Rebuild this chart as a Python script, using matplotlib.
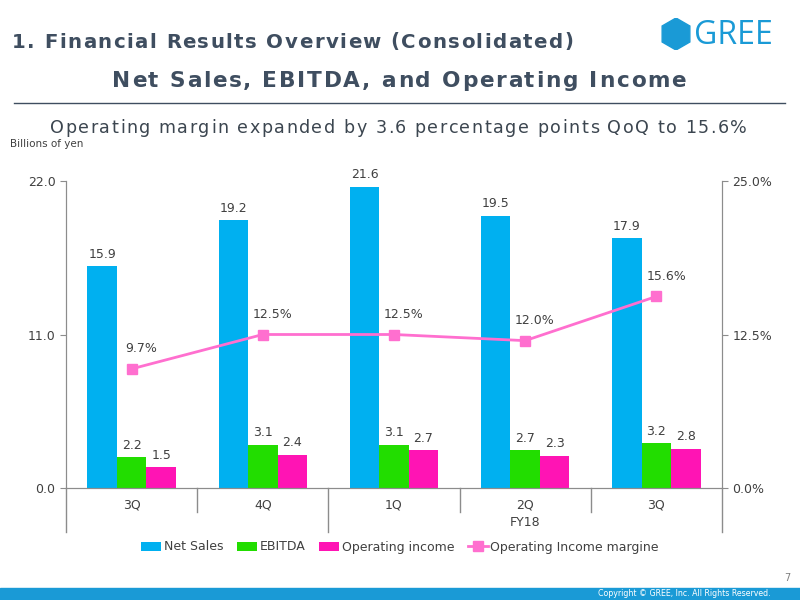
import numpy as np
import matplotlib
matplotlib.use("Agg")
import matplotlib.pyplot as plt
from matplotlib.patches import RegularPolygon, Rectangle
from matplotlib.lines import Line2D
import matplotlib.transforms as mtransforms

# --------- data ---------
quarters = ["3Q", "4Q", "1Q", "2Q", "3Q"]
net_sales = [15.9, 19.2, 21.6, 19.5, 17.9]
ebitda = [2.2, 3.1, 3.1, 2.7, 3.2]
op_income = [1.5, 2.4, 2.7, 2.3, 2.8]
op_margin = [9.7, 12.5, 12.5, 12.0, 15.6]

C_SALES = "#00B0F0"
C_EBITDA = "#22DD00"
C_OPINC = "#FF14B4"
C_MARGIN = "#FF6FCF"
C_TITLE = "#3F4E60"
C_TEXT = "#404040"
C_AXIS = "#8C8C8C"
C_BRAND = "#1A9AD6"

plt.rcParams["font.family"] = ["DejaVu Sans"]

fig = plt.figure(figsize=(8, 6), dpi=100)
renderer = fig.canvas.get_renderer()


# --------- utils ---------
def _width(s, **kw):
    t = fig.text(0, 0, s, **kw)
    w = t.get_window_extent(renderer).width
    t.remove()
    return w

def spaced_text(x0, x1, y, s, **kw):
    """draw s letter-spaced so that it spans x0..x1 (pixels), y in pixels from top"""
    bar = _width("|", **kw)
    pos = [_width(s[:i] + "|", **kw) - bar for i in range(len(s))]
    natural = _width(s, **kw)
    extra = (x1 - x0 - natural) / (len(s) - 1)
    for i, ch in enumerate(s):
        if ch == " ":
            continue
        fig.text((x0 + pos[i] + i*extra)/800, 1 - y/600, ch, ha="left", va="center", **kw)


# --------- header ---------
spaced_text(12, 573, 42, "1. Financial Results Overview (Consolidated)",
            fontsize=14.2, fontweight="bold", color=C_TITLE)
spaced_text(112, 686, 81, "Net Sales, EBITDA, and Operating Income",
            fontsize=15.6, fontweight="bold", color=C_TITLE)
fig.add_artist(Line2D([14/800, 785/800], [1-103/600, 1-103/600], color=C_TITLE, lw=1))
spaced_text(50, 747, 128, "Operating margin expanded by 3.6 percentage points QoQ to 15.6%",
            fontsize=12.6, color="#3C4650")
fig.text(10/800, 1-144/600, "Billions of yen", fontsize=7.5, color=C_TEXT, va="center", ha="left")

# logo
hexax = fig.add_axes([660/800, 1-50/600, 32/800, 32/600])
hexax.set_xlim(-1, 1); hexax.set_ylim(-1, 1); hexax.set_aspect("equal"); hexax.axis("off")
hexax.add_patch(RegularPolygon((0, 0), numVertices=6, radius=1.0, color=C_BRAND))
fig.text(694/800, 1-35/600, "GREE", fontsize=23, color=C_BRAND, va="center", ha="left",
         family=["Open Sans", "DejaVu Sans"])

# footer
fig.add_artist(Rectangle((0, 0), 1, 12/600, color=C_BRAND, transform=fig.transFigure))
fig.text(684/800, 6/600, "Copyright \u00a9 GREE, Inc. All Rights Reserved.",
         fontsize=5.7, color="white", va="center", ha="center")
fig.text(790/800, 1-578/600, "7", fontsize=7, color="#7F7F7F", va="center", ha="right")

# --------- chart ---------
ax = fig.add_axes([66/800, 1-488/600, 656/800, 307/600])
x = np.arange(len(quarters))
w = 0.225
r1 = ax.bar(x - w, net_sales, w, color=C_SALES, label="Net Sales")
r2 = ax.bar(x, ebitda, w, color=C_EBITDA, label="EBITDA")
r3 = ax.bar(x + w, op_income, w, color=C_OPINC, label="Operating income")
for rects in (r1, r2, r3):
    for r in rects:
        h = r.get_height()
        ax.annotate(f"{h:.1f}", (r.get_x() + r.get_width()/2, h), xytext=(0, 4),
                    textcoords="offset points", ha="center", va="bottom",
                    fontsize=9, color=C_TEXT)

ax.set_xlim(-0.5, len(quarters) - 0.5)
ax.set_ylim(0, 22)
ax.set_yticks([0, 11, 22])
ax.set_yticklabels(["0.0", "11.0", "22.0"])
ax.set_xticks([])
ax.spines["top"].set_visible(False)
for s in ("left", "right", "bottom"):
    ax.spines[s].set_color(C_AXIS)
ax.tick_params(axis="y", colors=C_AXIS, labelcolor=C_TEXT, labelsize=9, length=4)

ax2 = ax.twinx()
ln, = ax2.plot(x, op_margin, color=C_MARGIN, lw=2, marker="s", ms=7,
               label="Operating Income margine")
for xi, m in zip(x, op_margin):
    ax2.annotate(f"{m:.1f}%", (xi, m), xytext=(7, 10), textcoords="offset points",
                 ha="center", va="bottom", fontsize=9, color=C_TEXT)
ax2.set_ylim(0, 25)
ax2.set_yticks([0, 12.5, 25])
ax2.set_yticklabels(["0.0%", "12.5%", "25.0%"])
ax2.spines["top"].set_visible(False)
for s in ("left", "right", "bottom"):
    ax2.spines[s].set_color(C_AXIS)
ax2.tick_params(axis="y", colors=C_AXIS, labelcolor=C_TEXT, labelsize=9, length=4)

# category axis below
trans = mtransforms.blended_transform_factory(ax.transData, ax.transAxes)
short = -24/307
long_ = -44/307
for b in np.arange(-0.5, len(quarters), 1.0):
    y_end = long_ if b in (-0.5, 1.5, len(quarters) - 0.5) else short
    ax.plot([b, b], [0, y_end], color=C_AXIS, lw=1, transform=trans, clip_on=False)
for xi, q in zip(x, quarters):
    ax.text(xi, -17/307, q, transform=trans, ha="center", va="center", fontsize=9, color=C_TEXT)
ax.text(3.0, -34/307, "FY18", transform=trans, ha="center", va="center", fontsize=9, color=C_TEXT)

handles = [r1, r2, r3, ln]
fig.legend(handles, [h.get_label() for h in handles], loc="center",
           bbox_to_anchor=(0.5, 1-547/600), ncol=4, frameon=False, fontsize=9,
           handlelength=1.6, handletextpad=0.2, columnspacing=1.1, labelcolor=C_TEXT)

fig.savefig("out.png", dpi=100)
